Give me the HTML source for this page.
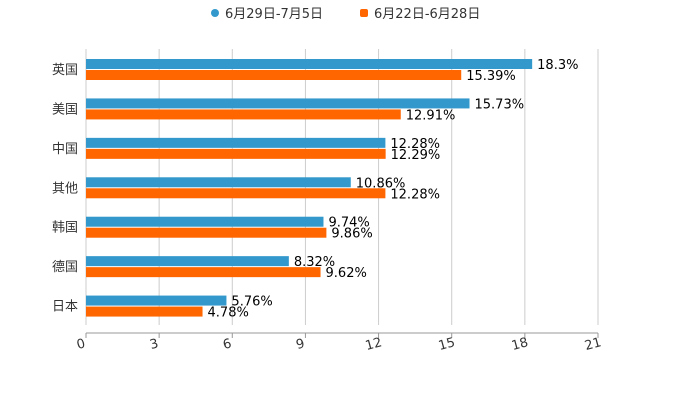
<!DOCTYPE html>
<html><head><meta charset="utf-8"><style>
body{margin:0;background:#fff;}
svg text{font-family:"DejaVu Sans","Noto Sans CJK SC",sans-serif;}
</style></head><body>
<svg id="c" width="700" height="400" xmlns="http://www.w3.org/2000/svg">
<g>
 <g><circle cx="215" cy="13" r="4" fill="#3399cc"/><text x="225" y="18" font-size="13" fill="#333">6月29日-7月5日</text></g>
 <g><rect x="360" y="9" width="8" height="8" rx="2" fill="#ff6600"/><text x="374" y="18" font-size="13" fill="#333">6月22日-6月28日</text></g>
</g>
</svg>
<script>
const categories=["英国","美国","中国","其他","韩国","德国","日本"];
const seriesA=[18.3,15.73,12.28,10.86,9.74,8.32,5.76];
const seriesB=[15.39,12.91,12.29,12.28,9.86,9.62,4.78];
const ticks=[0,3,6,9,12,15,18,21];
const labelsA=["18.3%","15.73%","12.28%","10.86%","9.74%","8.32%","5.76%"];
const labelsB=["15.39%","12.91%","12.29%","12.28%","9.86%","9.62%","4.78%"];
const svg=document.getElementById('c');const NS="http://www.w3.org/2000/svg";
const x0=86,x1=598,plotTop=49,plotBot=325,maxV=21;
const xs=v=>x0+v/maxV*(x1-x0);
const band=(plotBot-plotTop)/categories.length;
function mk(t,a,p){const e=document.createElementNS(NS,t);for(const k in a)e.setAttribute(k,a[k]);(p||svg).appendChild(e);return e;}
ticks.forEach((t,i)=>{
 const g=mk('line',{x1:xs(t),x2:xs(t),y1:plotTop,y2:plotBot,stroke:'#ccc','stroke-width':1});
 
 
 const tk=mk('line',{x1:xs(t),x2:xs(t),y1:333,y2:338,stroke:'#999'});
 
 
 const tx=mk('text',{x:xs(t)-4,y:348,'font-size':13,fill:'#333','text-anchor':'middle',transform:`rotate(-15 ${xs(t)-4} 348)`});
 tx.textContent=t;
 
 
});
const ax=mk('line',{x1:x0,x2:x1,y1:333,y2:333,stroke:'#999'});


categories.forEach((c,i)=>{
 const y=plotTop+i*band;
 const l=mk('text',{x:78,y:y+25,'font-size':13,fill:'#333','text-anchor':'end'});
 l.textContent=c;
 
 
 const a=mk('rect',{x:x0,y:y+10,width:xs(seriesA[i])-x0,height:10,fill:'#3399cc'});
 
 
 const b=mk('rect',{x:x0,y:y+21,width:xs(seriesB[i])-x0,height:10,fill:'#ff6600'});
 
 
 const ta=mk('text',{x:xs(seriesA[i])+5,y:y+20,'font-size':13,fill:'#000'});
 ta.textContent=labelsA[i];
 
 
 const tb=mk('text',{x:xs(seriesB[i])+5,y:y+31,'font-size':13,fill:'#000'});
 tb.textContent=labelsB[i];
 
 
});
</script>
</body></html>
